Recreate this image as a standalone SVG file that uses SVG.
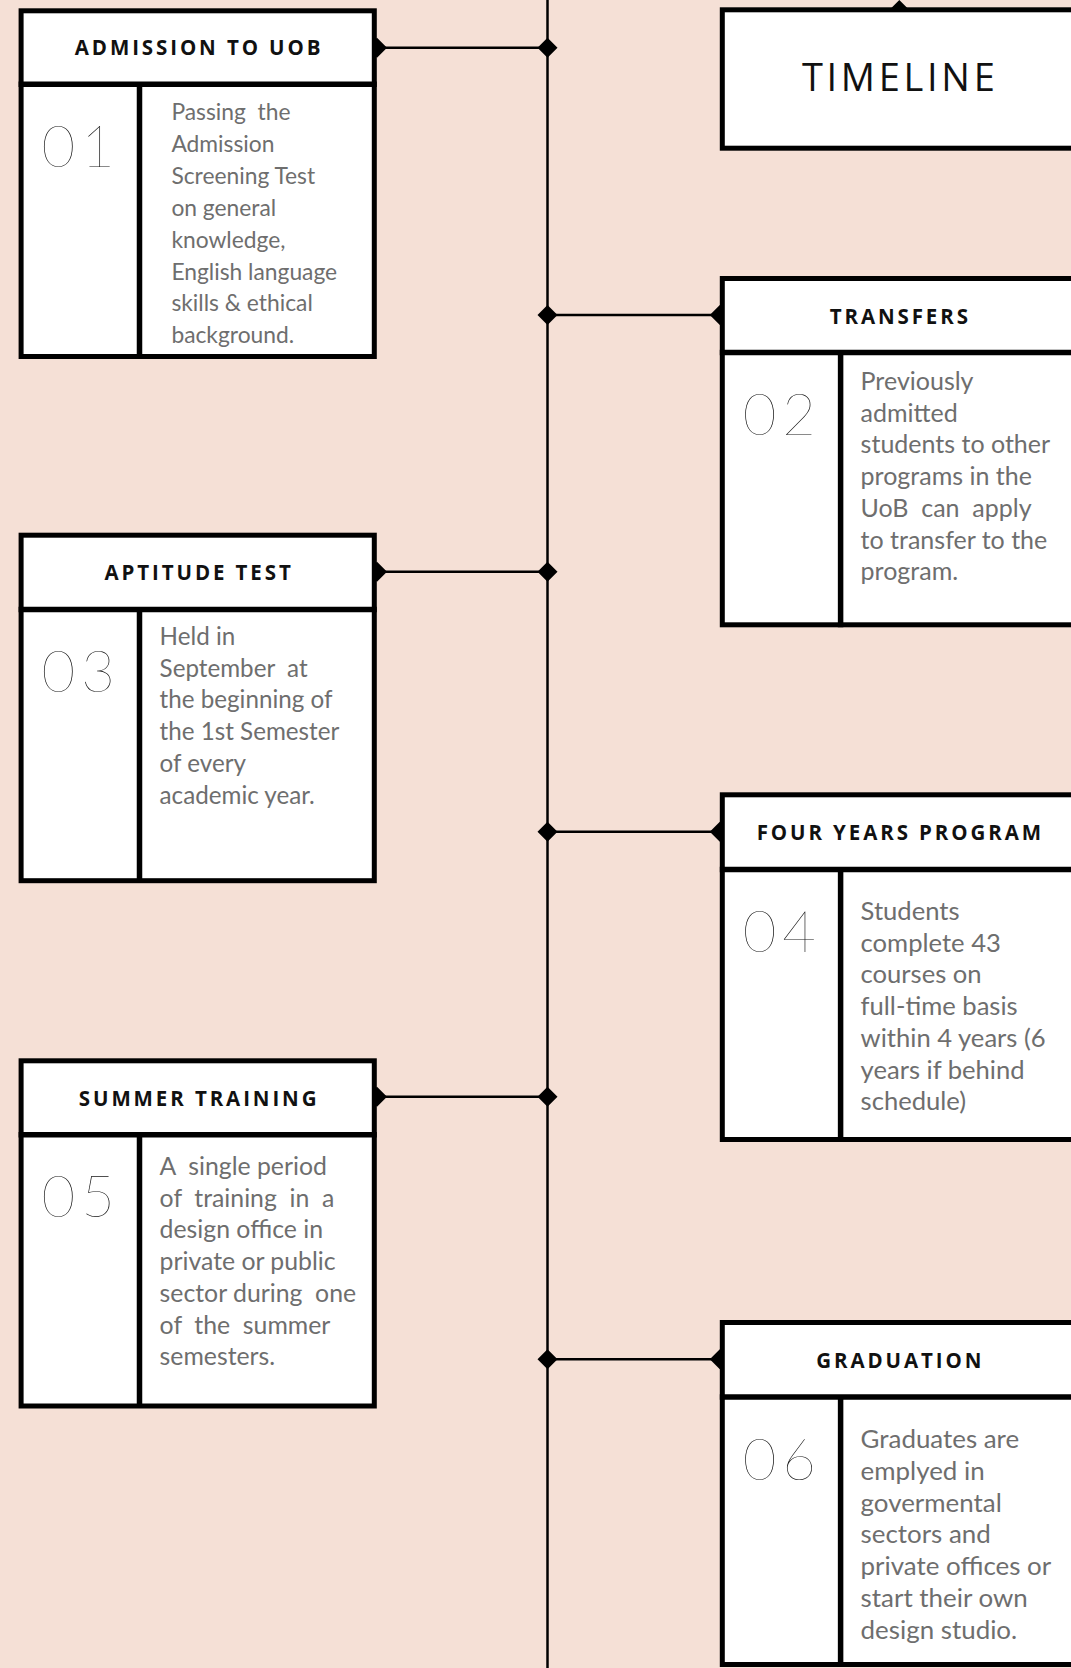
<svg xmlns="http://www.w3.org/2000/svg" width="1071" height="1668" viewBox="0 0 1071 1668">
<style>
.bg{fill:#f5e0d6}
.box{fill:#fff;stroke:#000;stroke-width:5}
.div{stroke:#000;stroke-width:5.5;fill:none}
.conn{stroke:#000;stroke-width:2.5;fill:none}
.dia{fill:#000}
.hdr{font-family:"Open Sans","Liberation Sans",sans-serif;font-weight:700;font-size:20.5px;letter-spacing:2.9px;fill:#111;text-anchor:middle}
.ttl{font-family:"Open Sans","Liberation Sans",sans-serif;font-weight:400;font-size:38px;letter-spacing:3.7px;fill:#111;text-anchor:middle}
.num{font-family:Lato,"Liberation Sans",sans-serif;font-weight:200;font-size:58px;letter-spacing:6px;fill:#111}
.txt{font-family:Lato,"Liberation Sans",sans-serif;font-size:22.8px;fill:#6e6e6e;white-space:pre}
.t3{font-size:24.2px}
.t5{font-size:24.8px}
.txr{font-family:Lato,"Liberation Sans",sans-serif;font-size:25px;fill:#6e6e6e;white-space:pre}
.t4{font-size:25.6px}
.t6{font-size:25.9px}
</style>
<defs>
<path id="d" d="M0,-10 L10,0 L0,10 L-10,0 Z"/>
</defs>
<rect class="bg" x="0" y="0" width="1071" height="1668"/>

<g id="connectors">
<line class="conn" x1="547.5" y1="0" x2="547.5" y2="1668"/>
<line class="conn" x1="376.8" y1="47.7" x2="547.5" y2="47.7"/>
<line class="conn" x1="376.8" y1="571.7" x2="547.5" y2="571.7"/>
<line class="conn" x1="376.8" y1="1096.7" x2="547.5" y2="1096.7"/>
<line class="conn" x1="547.5" y1="315" x2="719.8" y2="315"/>
<line class="conn" x1="547.5" y1="831.7" x2="719.8" y2="831.7"/>
<line class="conn" x1="547.5" y1="1359.3" x2="719.8" y2="1359.3"/>
<use href="#d" class="dia" x="547.5" y="47.7"/>
<use href="#d" class="dia" x="547.5" y="571.7"/>
<use href="#d" class="dia" x="547.5" y="1096.7"/>
<use href="#d" class="dia" x="547.5" y="315"/>
<use href="#d" class="dia" x="547.5" y="831.7"/>
<use href="#d" class="dia" x="547.5" y="1359.3"/>
<use href="#d" class="dia" x="377" y="47.7"/>
<use href="#d" class="dia" x="377" y="571.7"/>
<use href="#d" class="dia" x="377" y="1096.7"/>
<use href="#d" class="dia" x="719.8" y="315"/>
<use href="#d" class="dia" x="719.8" y="831.7"/>
<use href="#d" class="dia" x="719.8" y="1359.3"/>
<use href="#d" class="dia" x="899.3" y="10"/>
</g>

<g id="timeline">
<rect class="box" x="722.3" y="9.8" width="360" height="138.4"/>
<text class="ttl" x="900.2" y="90.7">TIMELINE</text>
</g>

<g id="admission">
<rect class="box" x="21.1" y="10.8" width="353.2" height="345.7"/>
<line class="div" x1="18.6" y1="84.3" x2="376.8" y2="84.3"/>
<line class="div" x1="139.5" y1="84.3" x2="139.5" y2="359"/>
<text class="hdr" x="199.1" y="55">ADMISSION TO UOB</text>
<text class="num" x="41.5" y="167">01</text>
<text class="txt" x="171.4" y="120"><tspan x="171.4">Passing  the</tspan><tspan x="171.4" dy="31.9">Admission</tspan><tspan x="171.4" dy="31.9">Screening Test</tspan><tspan x="171.4" dy="31.9">on general</tspan><tspan x="171.4" dy="31.9">knowledge,</tspan><tspan x="171.4" dy="31.9">English language</tspan><tspan x="171.4" dy="31.9">skills &amp; ethical</tspan><tspan x="171.4" dy="31.9">background.</tspan></text>
</g>

<g id="transfers">
<rect class="box" x="722.3" y="278.5" width="353.2" height="346.3"/>
<line class="div" x1="719.8" y1="352.5" x2="1078" y2="352.5"/>
<line class="div" x1="840.6" y1="352.5" x2="840.6" y2="627.3"/>
<text class="hdr" x="900.3" y="324">TRANSFERS</text>
<text class="num" x="742.7" y="435">02</text>
<text class="txr" x="860.6" y="390"><tspan x="860.6">Previously</tspan><tspan x="860.6" dy="31.7">admitted</tspan><tspan x="860.6" dy="31.7">students to other</tspan><tspan x="860.6" dy="31.7">programs in the</tspan><tspan x="860.6" dy="31.7">UoB  can  apply</tspan><tspan x="860.6" dy="31.7">to transfer to the</tspan><tspan x="860.6" dy="31.7">program.</tspan></text>
</g>

<g id="aptitude">
<rect class="box" x="21.1" y="535.2" width="353.2" height="345.5"/>
<line class="div" x1="18.6" y1="609.5" x2="376.8" y2="609.5"/>
<line class="div" x1="139.5" y1="609.5" x2="139.5" y2="883"/>
<text class="hdr" x="199.1" y="580">APTITUDE TEST</text>
<text class="num" x="41.5" y="691.7">03</text>
<text class="txt t3" x="159.6" y="645"><tspan x="159.6">Held in</tspan><tspan x="159.6" dy="31.7">September  at</tspan><tspan x="159.6" dy="31.7">the beginning of</tspan><tspan x="159.6" dy="31.7">the 1st Semester</tspan><tspan x="159.6" dy="31.7">of every</tspan><tspan x="159.6" dy="31.7">academic year.</tspan></text>
</g>

<g id="four-years">
<rect class="box" x="722.3" y="794.8" width="353.2" height="344.7"/>
<line class="div" x1="719.8" y1="869.5" x2="1078" y2="869.5"/>
<line class="div" x1="840.6" y1="869.5" x2="840.6" y2="1142"/>
<text class="hdr" x="900.3" y="840">FOUR YEARS PROGRAM</text>
<text class="num" x="742.7" y="951.7">04</text>
<text class="txr t4" x="860.6" y="920"><tspan x="860.6">Students</tspan><tspan x="860.6" dy="31.7">complete 43</tspan><tspan x="860.6" dy="31.7">courses on</tspan><tspan x="860.6" dy="31.7">full-time basis</tspan><tspan x="860.6" dy="31.7">within 4 years (6</tspan><tspan x="860.6" dy="31.7">years if behind</tspan><tspan x="860.6" dy="31.7">schedule)</tspan></text>
</g>

<g id="summer">
<rect class="box" x="21.1" y="1060.8" width="353.2" height="345.2"/>
<line class="div" x1="18.6" y1="1134.8" x2="376.8" y2="1134.8"/>
<line class="div" x1="139.5" y1="1134.8" x2="139.5" y2="1408"/>
<text class="hdr" x="199.1" y="1105.7">SUMMER TRAINING</text>
<text class="num" x="41.5" y="1216.7">05</text>
<text class="txt t5" x="159.6" y="1175"><tspan x="159.6">A  single period</tspan><tspan x="159.6" dy="31.7">of  training  in  a</tspan><tspan x="159.6" dy="31.7">design office in</tspan><tspan x="159.6" dy="31.7">private or public</tspan><tspan x="159.6" dy="31.7">sector during  one</tspan><tspan x="159.6" dy="31.7">of  the  summer</tspan><tspan x="159.6" dy="31.7">semesters.</tspan></text>
</g>

<g id="graduation">
<rect class="box" x="722.3" y="1322.5" width="353.2" height="342"/>
<line class="div" x1="719.8" y1="1397" x2="1078" y2="1397"/>
<line class="div" x1="840.6" y1="1397" x2="840.6" y2="1667"/>
<text class="hdr" x="900.3" y="1368.3">GRADUATION</text>
<text class="num" x="742.7" y="1480">06</text>
<text class="txr t6" x="860.6" y="1448.3"><tspan x="860.6">Graduates are</tspan><tspan x="860.6" dy="31.7">emplyed in</tspan><tspan x="860.6" dy="31.7">govermental</tspan><tspan x="860.6" dy="31.7">sectors and</tspan><tspan x="860.6" dy="31.7">private offices or</tspan><tspan x="860.6" dy="31.7">start their own</tspan><tspan x="860.6" dy="31.7">design studio.</tspan></text>
</g>
</svg>
